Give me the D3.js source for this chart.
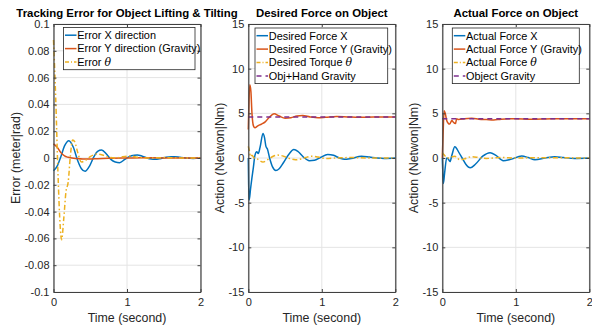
<!DOCTYPE html>
<html>
<head>
<meta charset="utf-8">
<script src="https://cdn.jsdelivr.net/npm/d3@7"></script>
<style>
  body { margin: 0; background: #fff; }
  svg { display: block; font-family: "Liberation Sans", Arial, Helvetica, sans-serif; }
</style>
</head>
<body>
<svg id="chart" width="592" height="328"></svg>
<script>
// ---- data: [time (s), value] ----
const errorX = [[0,-0.0095],[0.05,-0.006],[0.1,0.001],[0.15,0.009],[0.21,0.0129],[0.27,0.008],[0.33,-0.002],[0.38,-0.008],[0.43,-0.0099],[0.49,-0.006],[0.55,0.001],[0.6,0.005],[0.655,0.006],[0.72,0.003],[0.78,-0.001],[0.84,-0.003],[0.9,-0.0035],[0.97,-0.001],[1.03,0.001],[1.1,0.002],[1.14,0.0022],[1.2,0.0015],[1.27,0],[1.33,-0.0008],[1.38,-0.001],[1.45,-0.0005],[1.52,0.0004],[1.6,0.001],[1.65,0.001],[1.72,0.0005],[1.8,0],[1.9,-0.0003],[2,0]];
const errorY = [[0,0.0105],[0.05,0.008],[0.1,0.004],[0.15,0.0015],[0.2,0.0005],[0.3,-0.0003],[0.4,-0.0008],[0.5,-0.0008],[0.6,-0.0005],[0.8,-0.0002],[1,0],[1.2,0.0002],[1.5,0],[2,0]];
const errorTheta = [[0,0.088],[0.03,0.045],[0.06,-0.01],[0.09,-0.05],[0.11,-0.061],[0.14,-0.045],[0.17,-0.025],[0.2,-0.018],[0.23,0.002],[0.26,0.0135],[0.29,0.012],[0.33,0.004],[0.38,-0.003],[0.43,-0.002],[0.5,0.001],[0.59,0.003],[0.68,0.002],[0.76,0.0005],[0.84,0],[0.94,0.001],[1.04,0.0015],[1.15,0.0005],[1.3,0],[1.5,0.0003],[1.7,0],[2,0]];

const desiredFx = [[0,0],[0.005,-3.0],[0.012,-4.7],[0.03,-3.5],[0.045,-2.5],[0.07,-1.0],[0.09,0.3],[0.115,0.7],[0.135,0.5],[0.16,1.2],[0.2,2.75],[0.22,2.3],[0.24,1.3],[0.26,1.0],[0.29,0],[0.33,-1.0],[0.375,-1.4],[0.42,-1.2],[0.48,-0.5],[0.55,0.4],[0.62,0.95],[0.68,0.7],[0.75,0.1],[0.83,-0.3],[0.9,-0.25],[0.98,0.05],[1.08,0.4],[1.16,0.3],[1.24,0],[1.31,-0.15],[1.4,-0.05],[1.54,0.2],[1.65,0.1],[1.75,0],[1.85,-0.05],[2,0]];
const desiredFy = [[0,3.2],[0.01,6.5],[0.02,8.2],[0.035,7.5],[0.05,5.0],[0.07,3.6],[0.09,3.4],[0.13,3.6],[0.18,3.8],[0.23,4.05],[0.28,4.5],[0.35,4.95],[0.42,4.7],[0.5,4.45],[0.58,4.5],[0.66,4.7],[0.74,4.75],[0.84,4.6],[0.95,4.5],[1.05,4.55],[1.2,4.65],[1.35,4.6],[1.5,4.55],[1.7,4.6],[2,4.6]];
const desiredTorque = [[0,1.3],[0.015,0.8],[0.03,0.15],[0.05,0.3],[0.08,0],[0.12,-0.1],[0.2,-0.45],[0.28,-0.1],[0.34,0.2],[0.4,0.33],[0.48,0.2],[0.56,-0.05],[0.64,-0.2],[0.72,-0.1],[0.8,0.1],[0.86,0.2],[0.95,0.1],[1.05,-0.05],[1.2,0],[1.4,0.05],[1.6,0],[2,0]];
const handGravity = [[0,4.6],[2,4.6]];

const actualFx = [[0,0],[0.008,-1.8],[0.015,-2.85],[0.03,-1.8],[0.06,0],[0.08,-0.1],[0.105,-0.4],[0.13,0.3],[0.17,1.25],[0.2,1.0],[0.22,0.7],[0.27,0],[0.32,-0.7],[0.38,-1.1],[0.45,-0.7],[0.55,0.2],[0.65,0.6],[0.73,0.3],[0.83,-0.3],[0.93,-0.15],[1.08,0.22],[1.17,0.05],[1.26,-0.2],[1.4,0],[1.53,0.15],[1.65,0.05],[1.8,-0.05],[2,0]];
const actualFy = [[0,0],[0.01,2.5],[0.025,5.3],[0.04,5.0],[0.06,4.2],[0.08,3.9],[0.1,3.8],[0.13,4.2],[0.15,4.0],[0.18,3.85],[0.195,4.4],[0.22,4.3],[0.3,4.4],[0.4,4.45],[0.5,4.35],[0.6,4.3],[0.7,4.25],[0.8,4.35],[1,4.4],[1.2,4.35],[1.5,4.4],[2,4.4]];
const actualTorque = [[0,0.6],[0.03,0.3],[0.07,0],[0.12,0.1],[0.17,0.2],[0.24,-0.2],[0.3,-0.1],[0.4,0.15],[0.5,0.05],[0.6,-0.05],[0.8,0.05],[1,0],[1.3,0.03],[2,0]];
const objGravity = [[0,4.4],[2,4.4]];

const xTicks = [0, 1, 2];
const errorTicks = [-0.1,-0.08,-0.06,-0.04,-0.02,0,0.02,0.04,0.06,0.08,0.1];
const forceTicks = [-15,-10,-5,0,5,10,15];

const blue = '#0072BD', red = '#D95319', yellow = '#EDB120', purple = '#7E2F8E';
const dashDot = '5,2.5,1.5,2.5', dashed = '5,4';

const panels = [
  { left: 53.5, title: 'Tracking Error for Object Lifting & Tilting', ylabel: 'Error (meter|rad)', ylabelX: 16,
    domain: [-0.1, 0.1], ticks: errorTicks, legend: { x: 63.5, y: 27.5, w: 131.5 },
    series: [
      { data: errorX, color: blue, label: 'Error X direction' },
      { data: errorY, color: red, label: 'Error Y direction (Gravity)' },
      { data: errorTheta, color: yellow, dash: dashDot, label: 'Error ', theta: true } ] },
  { left: 248.3, title: 'Desired Force on Object', ylabel: 'Action (Netwon|Nm)', ylabelX: 220,
    domain: [-15, 15], ticks: forceTicks, legend: { x: 255, y: 28, w: 132.7 },
    series: [
      { data: desiredFx, color: blue, label: 'Desired Force X' },
      { data: desiredFy, color: red, label: 'Desired Force Y (Gravity)' },
      { data: desiredTorque, color: yellow, dash: dashDot, label: 'Desired Torque ', theta: true },
      { data: handGravity, color: purple, dash: dashed, label: 'Obj+Hand Gravity' } ] },
  { left: 442.3, title: 'Actual Force on Object', ylabel: 'Action (Netwon|Nm)', ylabelX: 414,
    domain: [-15, 15], ticks: forceTicks, legend: { x: 452.3, y: 28, w: 127 },
    series: [
      { data: actualFx, color: blue, label: 'Actual Force X' },
      { data: actualFy, color: red, label: 'Actual Force Y (Gravity)' },
      { data: actualTorque, color: yellow, dash: dashDot, label: 'Actual Force ', theta: true },
      { data: objGravity, color: purple, dash: dashed, label: 'Object Gravity' } ] }
];

const svg = d3.select('#chart');
const plotTop = 24, plotBottom = 292, plotW = 147;
const axisColor = '#404040', textColor = '#262626';

panels.forEach(p => {
  const x = d3.scaleLinear().domain([0, 2]).range([p.left, p.left + plotW]);
  const y = d3.scaleLinear().domain(p.domain).range([plotBottom, plotTop]);
  const g = svg.append('g');

  // grid
  g.append('g').selectAll('line').data(p.ticks).join('line')
    .attr('x1', x(0)).attr('x2', x(2)).attr('y1', d => y(d)).attr('y2', d => y(d))
    .attr('stroke', '#e4e4e4').attr('stroke-width', 1);
  g.append('g').selectAll('line').data(xTicks).join('line')
    .attr('x1', d => x(d)).attr('x2', d => x(d)).attr('y1', plotTop).attr('y2', plotBottom)
    .attr('stroke', '#e4e4e4').attr('stroke-width', 1);

  // curves
  const line = d3.line().x(d => x(d[0])).y(d => y(d[1])).curve(d3.curveMonotoneX);
  p.series.forEach(s => {
    g.append('path').attr('d', line(s.data))
      .attr('fill', 'none').attr('stroke', s.color).attr('stroke-width', 1.5)
      .attr('stroke-dasharray', s.dash || null);
  });

  // axes (box with inward ticks)
  const fmt = d => String(d);
  const styleAxis = sel => {
    sel.select('.domain').attr('stroke', axisColor).attr('stroke-width', 1.2);
    sel.selectAll('.tick line').attr('stroke', axisColor);
    sel.selectAll('text').attr('fill', textColor).attr('font-size', 11)
      .attr('font-family', '"Liberation Sans", Arial, sans-serif');
  };
  g.append('g').attr('transform', `translate(${x(0)},0)`)
    .call(d3.axisLeft(y).tickValues(p.ticks).tickFormat(fmt).tickSizeInner(-3).tickSizeOuter(0).tickPadding(4))
    .call(styleAxis);
  g.append('g').attr('transform', `translate(${x(2)},0)`)
    .call(d3.axisRight(y).tickValues(p.ticks).tickFormat('').tickSizeInner(-3).tickSizeOuter(0))
    .call(styleAxis);
  g.append('g').attr('transform', `translate(0,${plotBottom})`)
    .call(d3.axisBottom(x).tickValues(xTicks).tickFormat(fmt).tickSizeInner(-3).tickSizeOuter(0).tickPadding(6))
    .call(styleAxis);
  g.append('g').attr('transform', `translate(0,${plotTop})`)
    .call(d3.axisTop(x).tickValues(xTicks).tickFormat('').tickSizeInner(-3).tickSizeOuter(0))
    .call(styleAxis);

  // title & labels
  g.append('text').attr('x', x(1)).attr('y', 17).attr('text-anchor', 'middle')
    .attr('font-size', 11.4).attr('font-weight', 'bold').attr('fill', '#000').text(p.title);
  g.append('text').attr('x', x(1)).attr('y', 322).attr('text-anchor', 'middle')
    .attr('font-size', 12.4).attr('fill', textColor).text('Time (second)');
  g.append('text').attr('transform', `translate(${p.ylabelX},${y(0)}) rotate(-90)`)
    .attr('text-anchor', 'middle').attr('dy', '0.35em')
    .attr('font-size', 12.4).attr('fill', textColor).text(p.ylabel);

  // legend
  const L = p.legend, rowH = 13.4, n = p.series.length;
  const lg = g.append('g');
  lg.append('rect').attr('x', L.x).attr('y', L.y).attr('width', L.w).attr('height', n * rowH + 2)
    .attr('fill', '#fff').attr('stroke', '#262626').attr('stroke-width', 0.8);
  p.series.forEach((s, i) => {
    const cy = L.y + 1 + rowH * (i + 0.5);
    lg.append('line').attr('x1', L.x + 1.5).attr('x2', L.x + 13).attr('y1', cy).attr('y2', cy)
      .attr('stroke', s.color).attr('stroke-width', 1.5).attr('stroke-dasharray', s.dash ? (s.dash === dashed ? '5,4' : '4,2,1,2') : null);
    const t = lg.append('text').attr('x', L.x + 13.8).attr('y', cy).attr('dy', '0.35em')
      .attr('font-size', 10.9).attr('fill', '#000').text(s.label);
    if (s.theta) t.append('tspan').attr('font-family', '"DejaVu Serif", "Liberation Serif", serif')
      .attr('font-style', 'italic').text('θ');
  });
});
</script>
</body>
</html>
